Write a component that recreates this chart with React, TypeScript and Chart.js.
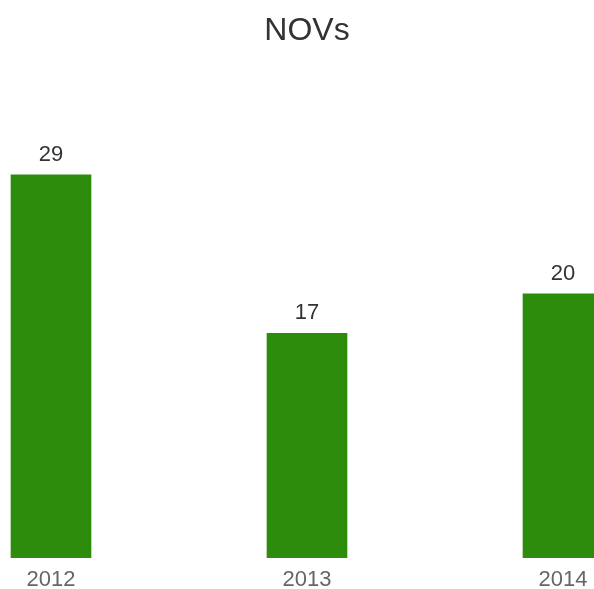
import React, { useEffect, useRef } from "react";
import { Chart, registerables } from "chart.js";

Chart.register(...registerables);

const categories = ["2012", "2013", "2014"];
const values = [29, 17, 20];
const chartTitle = "NOVs";

const valueLabels = {
  id: "valueLabels",
  afterDatasetsDraw(chart: any) {
    const ctx = chart.ctx;
    const meta = chart.getDatasetMeta(0);
    ctx.save();
    ctx.font = "22px 'Liberation Sans', Arial, sans-serif";
    ctx.fillStyle = "#333333";
    ctx.textAlign = "center";
    ctx.textBaseline = "alphabetic";
    meta.data.forEach((bar: any, i: number) => {
      ctx.fillText(String(values[i]), bar.x, bar.y - 14);
    });
    ctx.restore();
  },
};

export default function App() {
  const ref = useRef<HTMLCanvasElement>(null);
  useEffect(() => {
    if (!ref.current) return;
    const chart = new Chart(ref.current, {
      type: "bar",
      data: {
        labels: categories,
        datasets: [
          {
            data: values,
            backgroundColor: "#2d8c0c",
            barThickness: 80,
          },
        ],
      },
      options: {
        animation: false,
        responsive: false,
        maintainAspectRatio: false,
        layout: { padding: 0 },
        plugins: {
          legend: { display: false },
          tooltip: { enabled: false },
          title: {
            display: true,
            text: chartTitle,
            color: "#333333",
            font: { family: "'Liberation Sans', Arial, sans-serif", size: 32, weight: "normal", lineHeight: 1.2 },
            padding: { top: 12, bottom: 5.6 },
          },
        },
        scales: {
          x: {
            offset: true,
            grid: { display: false, drawTicks: false },
            border: { display: false },
            ticks: {
              color: "#666666",
              padding: 11,
              font: { family: "'Liberation Sans', Arial, sans-serif", size: 22, lineHeight: 1 },
            },
          },
          y: {
            display: false,
            min: 0,
            max: 38,
          },
        },
      },
      plugins: [valueLabels],
    });
    return () => chart.destroy();
  }, []);
  return (
    <div style={{ position: "fixed", left: 0, top: 0, width: 594, height: 589, overflow: "hidden", background: "#fff" }}>
      <canvas ref={ref} width={768} height={602} style={{ position: "absolute", left: -77, top: 0, width: 768, height: 602 }} />
    </div>
  );
}
